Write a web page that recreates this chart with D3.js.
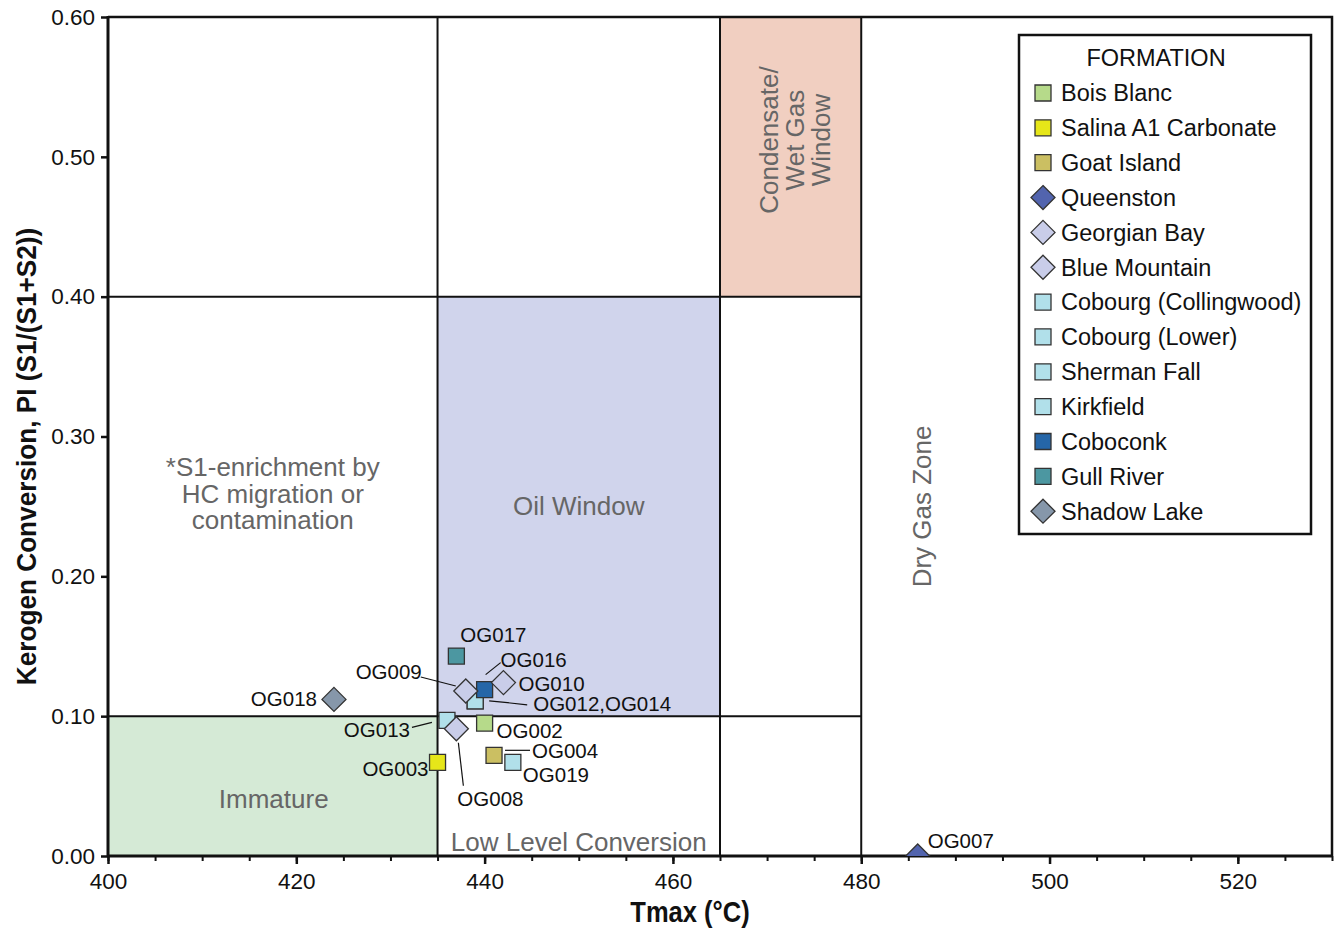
<!DOCTYPE html>
<html>
<head>
<meta charset="utf-8">
<script src="https://cdn.jsdelivr.net/npm/d3@7"></script>
<style>
  html, body { margin: 0; padding: 0; background: #fff; }
  svg { display: block; }
  text { font-family: "Liberation Sans", Arial, Helvetica, sans-serif; }
</style>
</head>
<body>
<svg id="chart" width="1335" height="929"></svg>
<script>
// Formations (legend order), their fill colours and marker shapes
const formations = ["Bois Blanc", "Salina A1 Carbonate", "Goat Island", "Queenston", "Georgian Bay",
  "Blue Mountain", "Cobourg (Collingwood)", "Cobourg (Lower)", "Sherman Fall", "Kirkfield",
  "Coboconk", "Gull River", "Shadow Lake"];
const formationColors = ["#b6da8a", "#e6e619", "#cbbf62", "#5264ae", "#c9cde9",
  "#c9cde9", "#b1e0ea", "#b1e0ea", "#b1e0ea", "#b1e0ea",
  "#2566a8", "#4c97a1", "#8697aa"];
const formationShapes = ["square", "square", "square", "diamond", "diamond",
  "diamond", "square", "square", "square", "square",
  "square", "square", "diamond"];

// Samples: Tmax (°C) and production index PI = S1/(S1+S2)
const sampleIds = ["OG002", "OG003", "OG004", "OG007", "OG012", "OG014", "OG013", "OG016", "OG017",
  "OG019", "OG009", "OG008", "OG010", "OG018"];
const sampleFormations = ["Bois Blanc", "Salina A1 Carbonate", "Goat Island", "Queenston",
  "Cobourg (Collingwood)", "Sherman Fall", "Cobourg (Lower)", "Coboconk", "Gull River",
  "Kirkfield", "Georgian Bay", "Georgian Bay", "Blue Mountain", "Shadow Lake"];
const tmaxValues = [440, 435, 441, 486, 439, 439, 436, 440, 437, 443, 438, 437, 442, 424];
const piValues = [0.095, 0.067, 0.072, 0.0, 0.111, 0.111, 0.097, 0.119, 0.143, 0.067, 0.118, 0.091, 0.124, 0.112];

// Axis ticks
const xTicks = [400, 420, 440, 460, 480, 500, 520];
const xMinorTicks = d3.range(400, 531, 5);
const yTicks = [0.0, 0.1, 0.2, 0.3, 0.4, 0.5, 0.6];

// Maturity zones: [x0, x1, y0, y1]
const zoneNames = ["Immature", "Oil Window", "Condensate/Wet Gas Window"];
const zoneBounds = [[400, 435, 0.0, 0.1], [435, 465, 0.1, 0.4], [465, 480, 0.4, 0.6]];
const zoneColors = ["#d5ead6", "#d0d4ec", "#f1cfc1"];

// Zone boundary lines: [x0, y0, x1, y1]
const boundaryLines = [[435, 0, 435, 0.6], [465, 0, 465, 0.6], [480, 0, 480, 0.6],
  [400, 0.1, 480, 0.1], [400, 0.4, 480, 0.4]];

// Label placement for sample annotations (pixel offsets from the marker, optional leader line)
const labelLayout = {
  "OG002":       { dx: 12, dy: 8, anchor: "start" },
  "OG003":       { dx: -9, dy: 7, anchor: "end" },
  "OG004":       { dx: 38, dy: -4, anchor: "start", leader: [11, -5, 36, -5] },
  "OG007":       { dx: 10, dy: -15, anchor: "start" },
  "OG012,OG014": { dx: 58, dy: 3, anchor: "start", leader: [14, 0, 52, 4] },
  "OG013":       { dx: -37, dy: 10, anchor: "end", leader: [-35, 7, -15, 2] },
  "OG016":       { dx: 16, dy: -30, anchor: "start", leader: [1, -15, 16, -27] },
  "OG017":       { dx: 4, dy: -21, anchor: "start" },
  "OG019":       { dx: 10, dy: 13, anchor: "start" },
  "OG009":       { dx: -44, dy: -19, anchor: "end", leader: [-45, -14, -10, -5] },
  "OG008":       { dx: 1, dy: 70, anchor: "start", leader: [2, 14, 7, 57] },
  "OG010":       { dx: 15, dy: 1, anchor: "start" },
  "OG018":       { dx: -17, dy: 0, anchor: "end" }
};

const svg = d3.select("#chart");
const margin = { left: 108, right: 1332, top: 17, bottom: 856 };

const x = d3.scaleLinear().domain([400, 530]).range([margin.left, margin.right]);
const y = d3.scaleLinear().domain([0, 0.6]).range([margin.bottom, margin.top]);

svg.append("defs").append("clipPath").attr("id", "plotClip")
  .append("rect")
  .attr("x", margin.left).attr("y", margin.top)
  .attr("width", margin.right - margin.left).attr("height", margin.bottom - margin.top);

// Zone fills
svg.append("g").selectAll("rect").data(zoneBounds).join("rect")
  .attr("x", d => x(d[0])).attr("y", d => y(d[3]))
  .attr("width", d => x(d[1]) - x(d[0]))
  .attr("height", d => y(d[2]) - y(d[3]))
  .attr("fill", (d, i) => zoneColors[i]);

// Zone boundaries
svg.append("g").selectAll("line").data(boundaryLines).join("line")
  .attr("x1", d => x(d[0])).attr("y1", d => y(d[1]))
  .attr("x2", d => x(d[2])).attr("y2", d => y(d[3]))
  .attr("stroke", "#111").attr("stroke-width", 2);

// Zone text
const zoneText = svg.append("g").attr("fill", "#666").attr("font-size", 26);
zoneText.append("text").attr("x", x(450)).attr("y", y(0.25) + 9)
  .attr("text-anchor", "middle").text("Oil Window");
zoneText.append("text").attr("x", x(417.6)).attr("y", y(0.0406) + 9)
  .attr("text-anchor", "middle").text("Immature");
zoneText.append("text").attr("x", x(450)).attr("y", y(0.0) - 5)
  .attr("text-anchor", "middle").text("Low Level Conversion");
["*S1-enrichment by", "HC migration or", "contamination"].forEach((t, i) => {
  zoneText.append("text").attr("text-anchor", "middle")
    .attr("x", x(417.5)).attr("y", y(0.278) + 9 + i * 26.5).text(t);
});
const cw = zoneText.append("text").attr("text-anchor", "middle")
  .attr("transform", `translate(${x(472.5)},${y(0.512)}) rotate(-90)`);
["Condensate/", "Wet Gas", "Window"].forEach((t, i) => {
  cw.append("tspan").attr("x", 0).attr("y", -13 + i * 26.3).text(t);
});
zoneText.append("text")
  .attr("transform", `translate(${x(487.4)},${y(0.25)}) rotate(-90)`)
  .attr("text-anchor", "middle").text("Dry Gas Zone");

// Plot frame: top and right borders
svg.append("path")
  .attr("d", `M${margin.left},${margin.top}H${margin.right}V${margin.bottom}`)
  .attr("fill", "none").attr("stroke", "#111").attr("stroke-width", 2.5);

// X axis
const xAxisG = svg.append("g").attr("transform", `translate(0,${margin.bottom})`);
xAxisG.call(d3.axisBottom(x).tickValues(xMinorTicks).tickSize(5).tickFormat(""))
  .call(g => g.select(".domain").remove());
xAxisG.selectAll(".tick line").attr("stroke", "#111").attr("stroke-width", 2);
const xMajor = svg.append("g").attr("transform", `translate(0,${margin.bottom})`);
xMajor.call(d3.axisBottom(x).tickValues(xTicks).tickSize(8).tickPadding(9).tickFormat(d3.format("d")));
xMajor.select(".domain").remove();
xMajor.selectAll(".tick line").attr("stroke", "#111").attr("stroke-width", 2.5);
xMajor.selectAll(".tick text").attr("font-size", 22.5).attr("fill", "#111")
  .attr("font-family", "'Liberation Sans', Arial, sans-serif");
svg.append("line").attr("x1", margin.left - 1).attr("x2", margin.right + 1)
  .attr("y1", margin.bottom).attr("y2", margin.bottom)
  .attr("stroke", "#111").attr("stroke-width", 3);

// Y axis
const yAxisG = svg.append("g").attr("transform", `translate(${margin.left},0)`);
yAxisG.call(d3.axisLeft(y).tickValues(yTicks).tickSize(7).tickPadding(6).tickFormat(d3.format(".2f")));
yAxisG.select(".domain").remove();
yAxisG.selectAll(".tick line").attr("stroke", "#111").attr("stroke-width", 2.5);
yAxisG.selectAll(".tick text").attr("font-size", 22.5).attr("fill", "#111")
  .attr("font-family", "'Liberation Sans', Arial, sans-serif");
svg.append("line").attr("x1", margin.left).attr("x2", margin.left)
  .attr("y1", margin.top - 1).attr("y2", margin.bottom + 1)
  .attr("stroke", "#111").attr("stroke-width", 3);

// Axis titles (condensed bold)
svg.append("text").attr("transform", "translate(690,922) scale(0.88,1)")
  .attr("text-anchor", "middle")
  .attr("font-weight", "bold").attr("font-size", 29).attr("fill", "#111").text("Tmax (°C)");
svg.append("text").attr("transform", `translate(36,${y(0.3) + 20}) rotate(-90) scale(0.97,1)`)
  .attr("text-anchor", "middle")
  .attr("font-weight", "bold").attr("font-size", 27).attr("fill", "#111")
  .text("Kerogen Conversion, PI (S1/(S1+S2))");

// Marker path generators
const symSquare = d3.symbol().type(d3.symbolSquare).size(256);
const diamondPath = r => `M0,${-r}L${r},0L0,${r}L${-r},0Z`;
function markerPath(shape) { return shape === "diamond" ? diamondPath(12) : symSquare(); }

const samples = sampleIds.map((id, i) => {
  const fi = formations.indexOf(sampleFormations[i]);
  return { id, tmax: tmaxValues[i], pi: piValues[i], color: formationColors[fi], shape: formationShapes[fi] };
});

// Leader lines and labels
const labelKeyOf = id => (id === "OG012" || id === "OG014") ? "OG012,OG014" : id;
const labelled = new Set();
const labelG = svg.append("g");
samples.forEach(s => {
  const key = labelKeyOf(s.id);
  if (labelled.has(key)) return;
  labelled.add(key);
  const L = labelLayout[key];
  const px = x(s.tmax), py = y(s.pi);
  if (L.leader) {
    labelG.append("line")
      .attr("x1", px + L.leader[0]).attr("y1", py + L.leader[1])
      .attr("x2", px + L.leader[2]).attr("y2", py + L.leader[3])
      .attr("stroke", "#111").attr("stroke-width", 1.2);
  }
  labelG.append("text").attr("x", px + L.dx).attr("y", py + L.dy + 7)
    .attr("text-anchor", L.anchor).attr("font-size", 20.5).attr("fill", "#111").text(key);
});

// Sample markers
svg.append("g").attr("clip-path", "url(#plotClip)")
  .selectAll("path").data(samples).join("path")
  .attr("transform", d => `translate(${x(d.tmax)},${y(d.pi)})`)
  .attr("d", d => markerPath(d.shape))
  .attr("fill", d => d.color)
  .attr("stroke", "#333").attr("stroke-width", 1.3);

// Legend
const lg = svg.append("g");
lg.append("rect").attr("x", 1019).attr("y", 35).attr("width", 292).attr("height", 499)
  .attr("fill", "#fff").attr("stroke", "#111").attr("stroke-width", 2.5);
lg.append("text").attr("x", 1156).attr("y", 66).attr("text-anchor", "middle")
  .attr("font-size", 23.5).attr("fill", "#111").text("FORMATION");
formations.forEach((f, i) => {
  const cy = 93 + i * 34.85;
  lg.append("path").attr("transform", `translate(1043,${cy})`)
    .attr("d", markerPath(formationShapes[i]))
    .attr("fill", formationColors[i]).attr("stroke", "#333").attr("stroke-width", 1.3);
  lg.append("text").attr("x", 1061).attr("y", cy + 8.3)
    .attr("font-size", 23.5).attr("fill", "#111").text(f);
});
</script>
</body>
</html>
